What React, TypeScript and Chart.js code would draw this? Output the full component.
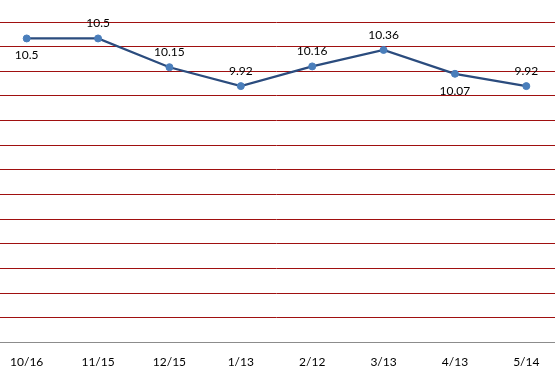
import React, { useEffect, useRef } from "react";
import { Chart, registerables } from "chart.js";

Chart.register(...registerables);

const categories = ["10/16", "11/15", "12/15", "1/13", "2/12", "3/13", "4/13", "5/14"];
const values = [10.5, 10.5, 10.15, 9.92, 10.16, 10.36, 10.07, 9.92];
const labelPlacement = ["below", "above", "above", "above", "above", "above", "below", "above"];
const yMin = 6.8;
const yMax = 10.7;
const yStep = 0.3;

const valueLabels = {
  id: "valueLabels",
  afterDatasetsDraw(chart: any) {
    const ctx = chart.ctx;
    const meta = chart.getDatasetMeta(0);
    ctx.save();
    ctx.font = "12px Lato, 'Liberation Sans', sans-serif";
    ctx.fillStyle = "#000000";
    ctx.textAlign = "center";
    ctx.textBaseline = "middle";
    meta.data.forEach((pt: any, i: number) => {
      const dy = labelPlacement[i] === "below" ? 17 : -15;
      ctx.fillText(String(values[i]), pt.x, pt.y + dy);
    });
    ctx.restore();
  },
};

export default function App() {
  const ref = useRef<HTMLCanvasElement | null>(null);
  useEffect(() => {
    if (!ref.current) return;
    const chart = new Chart(ref.current, {
      type: "line",
      data: {
        labels: categories,
        datasets: [
          {
            data: values,
            borderColor: "#2B4C7E",
            borderWidth: 2.25,
            backgroundColor: "#4A7EBB",
            pointBackgroundColor: "#4A7EBB",
            pointBorderColor: "#4A7EBB",
            pointRadius: 3.5,
            pointBorderWidth: 1,
            tension: 0,
          },
        ],
      },
      options: {
        animation: false,
        responsive: true,
        maintainAspectRatio: false,
        layout: { padding: { top: 22, bottom: 0, left: 0, right: 0 } },
        plugins: { legend: { display: false }, tooltip: { enabled: false } },
        scales: {
          x: {
            type: "category",
            offset: true,
            grid: { display: false, drawTicks: false },
            border: { display: true, color: "#8C8C8C", width: 1 },
            ticks: {
              color: "#000000",
              padding: 12,
              maxRotation: 0,
              autoSkip: false,
              font: { family: "Lato, 'Liberation Sans', sans-serif", size: 12 },
            },
          },
          y: {
            min: yMin,
            max: yMax,
            afterFit: (s: any) => {
              s.width = 0;
            },
            ticks: { display: false, stepSize: yStep },
            border: { display: false },
            grid: {
              drawTicks: false,
              lineWidth: 1,
              color: "#A01010",
            },
          },
        },
      },
      plugins: [valueLabels],
    });
    return () => chart.destroy();
  }, []);
  return (
    <div style={{ position: "fixed", left: 0, top: 0, width: 555, height: 376, overflow: "hidden", background: "#fff" }}>
      <div style={{ position: "absolute", left: -14, top: 0, width: 581, height: 381 }}>
        <canvas ref={ref} />
      </div>
    </div>
  );
}
